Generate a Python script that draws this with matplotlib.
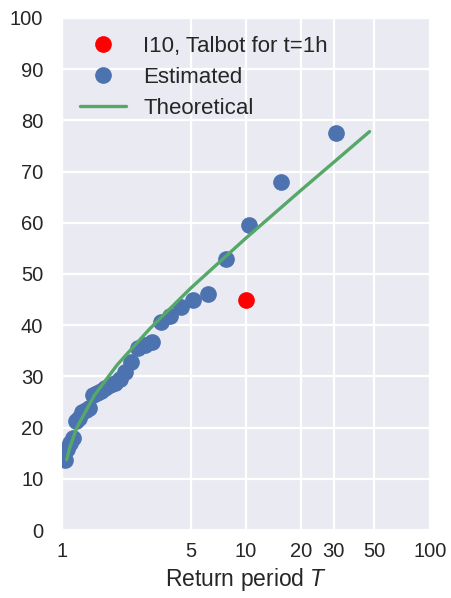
import numpy as np
import matplotlib
matplotlib.use('Agg')
import matplotlib.pyplot as plt
import seaborn as sns

sns.set_style('darkgrid')
plt.rcParams['font.family'] = ['Liberation Sans', 'DejaVu Sans']
plt.rcParams['mathtext.fontset'] = 'custom'
plt.rcParams['mathtext.it'] = 'Liberation Sans:italic'

# ---------- data ----------
# estimated points, return period T = 31/m
T_est = [31.0, 15.5, 10.33, 7.75, 6.2, 5.17, 4.43, 3.875, 3.44, 3.1,
         2.82, 2.58, 2.385, 2.214, 2.067, 1.9375, 1.824, 1.722, 1.632, 1.55,
         1.476, 1.409, 1.348, 1.292, 1.24, 1.192, 1.148, 1.107, 1.069, 1.033]
I_est = [77.5, 68.0, 59.5, 53.0, 46.0, 45.0, 43.6, 41.7, 40.7, 36.7,
         36.1, 35.5, 32.8, 30.8, 29.5, 28.8, 28.3, 27.7, 27.2, 26.8,
         26.4, 23.8, 23.5, 23.1, 21.8, 21.2, 18.0, 17.0, 15.8, 13.6]

# Talbot value
T_talbot = [10.0]
I_talbot = [45.0]

# theoretical curve
T_theo = [1.06, 1.1, 1.2, 1.5, 2.0, 3.0, 5.0, 10.0, 20.0, 30.0, 47.0]
I_theo = [13.7, 16.0, 19.9, 26.3, 32.3, 39.3, 47.2, 57.0, 66.4, 71.8, 77.8]

xticks = [1, 5, 10, 20, 30, 50, 100]

fig = plt.figure(figsize=(4.51, 5.98), dpi=100)
ax = fig.add_axes([0.1375, 0.1137, 0.8155, 0.8563])

ax.plot(T_talbot, I_talbot, 'o', color='#FF0000', markersize=11,
        label='I10, Talbot for t=1h', zorder=4)
ax.plot(T_est, I_est, 'o', color='#4C72B0', markersize=11,
        label='Estimated', zorder=3)
ax.plot(T_theo, I_theo, '-', color='#55A868', linewidth=2.4,
        label='Theoretical', zorder=5)

ax.set_xscale('log')
ax.set_xlim(1, 100)
ax.set_ylim(0, 100)
ax.set_xticks(xticks)
ax.set_xticklabels([str(t) for t in xticks])
ax.xaxis.set_minor_locator(matplotlib.ticker.NullLocator())
ax.set_yticks(np.arange(0, 101, 10))
ax.grid(True, which='major', axis='both', color='white', linewidth=1.6)
ax.set_axisbelow(True)
ax.tick_params(axis='x', labelsize=14.5, pad=5)
ax.tick_params(axis='y', labelsize=14.5, pad=10)
ax.set_xlabel('Return period $T$', fontsize=16.5, labelpad=4)

ax.legend(loc='upper left', fontsize=16, frameon=False,
          handlelength=2.1, handletextpad=0.75, labelspacing=0.45,
          borderaxespad=0.5, borderpad=0.3)

fig.savefig('out.png', dpi=100)
